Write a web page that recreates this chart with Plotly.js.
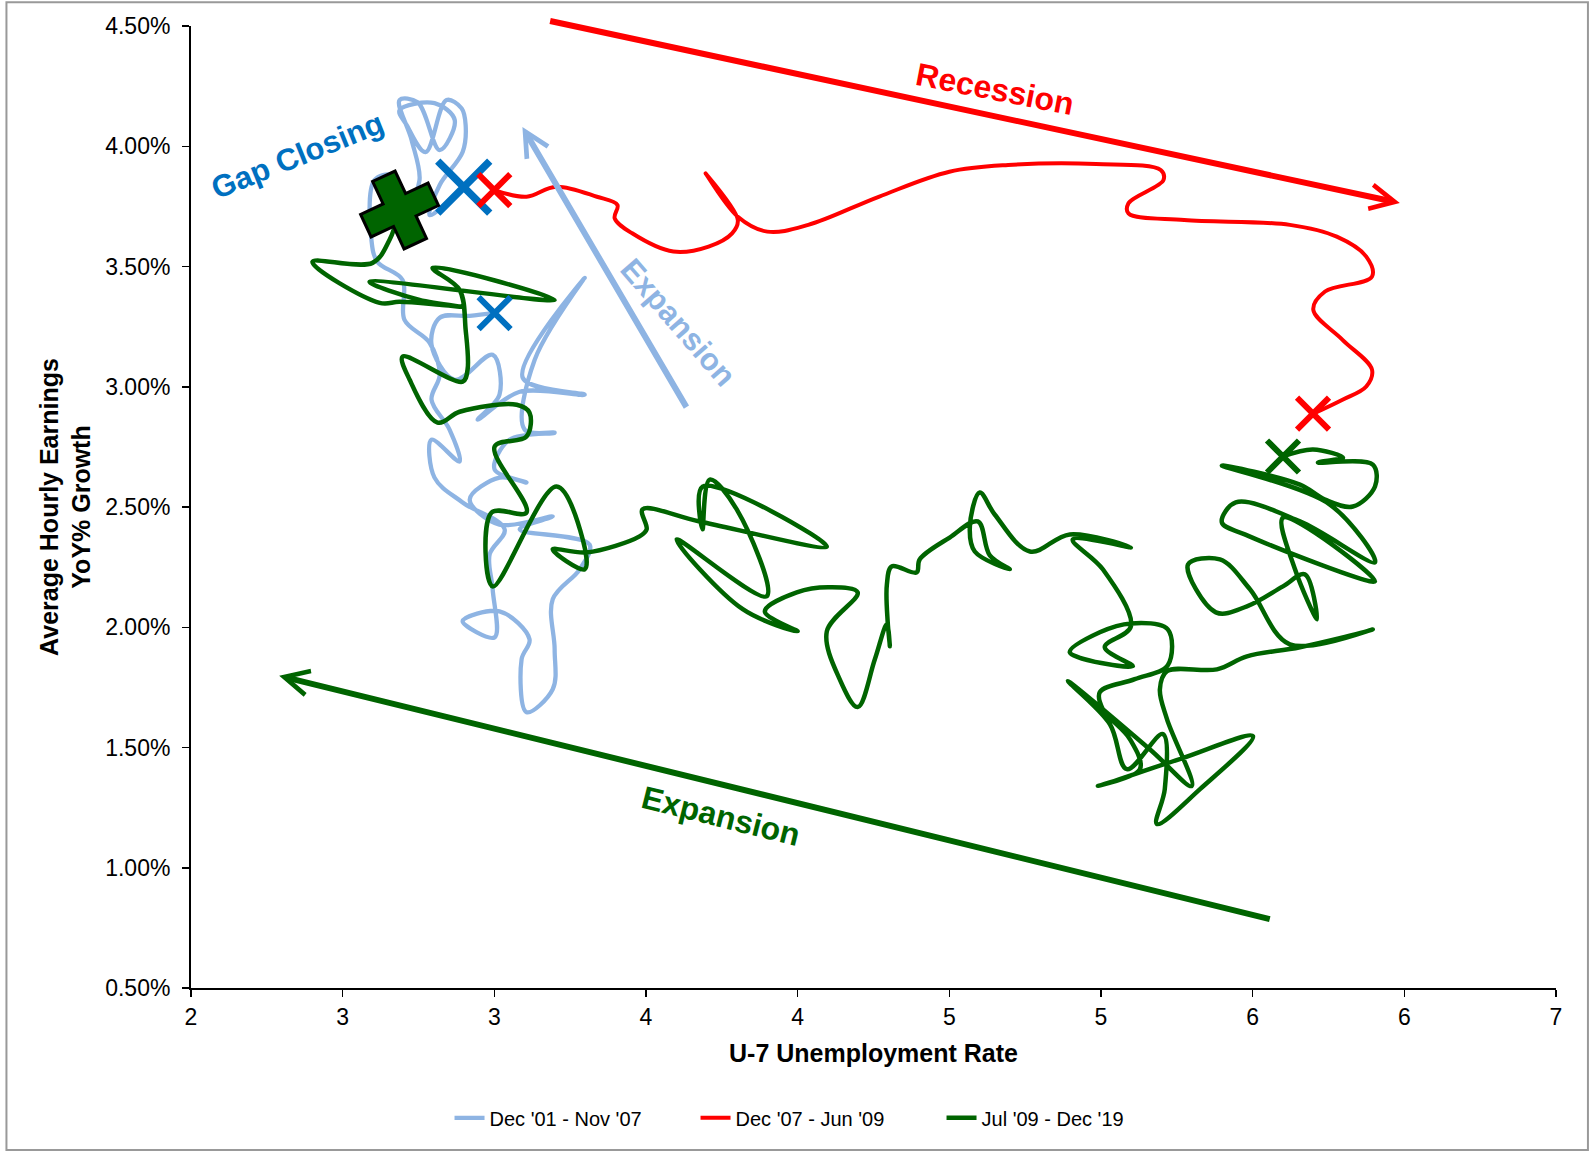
<!DOCTYPE html>
<html>
<head>
<meta charset="utf-8">
<script src="https://cdn.plot.ly/plotly-3.0.1.min.js"></script>
<style>
  html, body { margin: 0; padding: 0; background: #ffffff; }
  #chart { width: 1595px; height: 1153px; }
</style>
</head>
<body>
<div id="chart"></div>
<script>
// ---------------- DATA ----------------
// Legend / series names
const seriesNames = ["Dec '01 - Nov '07", "Dec '07 - Jun '09", "Jul '09 - Dec '19"];

// Dec '01 - Nov '07 (light blue)
const preRecessionU7 = [3.112,3.021,2.911,2.881,2.966,3.105,3.130,3.050,3.204,3.442,
  3.215,3.442,3.259,3.222,3.332,3.167,3.112,3.229,3.130,3.021,
  3.130,3.325,3.204,3.460,3.424,3.325,3.332,3.325,3.229,3.211,
  3.240,3.130,2.995,3.112,3.105,3.094,3.149,2.995,2.892,2.881,
  2.984,2.947,2.881,2.911,2.874,2.782,2.775,2.683,2.661,2.672,
  2.738,2.801,2.837,2.808,2.764,2.830,2.911,2.966,2.892,2.764,
  2.790,2.859,2.936,2.991,3.006,2.995,2.911,2.874,2.929,2.999];
const preRecessionAHE = [3.307,3.295,3.287,3.175,3.029,3.133,2.967,2.863,2.979,2.967,
  3.038,3.453,3.112,2.822,2.809,2.780,2.656,2.602,2.622,2.531,
  2.427,2.461,2.407,2.344,2.241,2.116,1.908,1.742,1.647,1.867,
  1.950,2.066,2.025,1.958,2.158,2.303,2.407,2.519,2.622,2.780,
  2.689,2.822,2.946,3.050,3.183,3.278,3.444,3.519,3.610,3.859,
  3.880,3.776,3.859,4.026,4.192,4.183,3.984,4.109,4.179,4.150,
  4.088,3.976,4.192,4.158,4.088,3.976,3.839,3.714,3.756,3.830];

// Dec '07 - Jun '09 (red)
const recessionU7 = [3.111,3.229,3.337,3.487,3.562,3.552,3.616,3.767,3.896,3.982,
  4.003,3.885,4.003,4.111,4.261,4.519,4.778,4.993,5.315,5.552,
  5.562,5.434,5.434,5.638,6.025,6.197,6.305,6.326,6.154,6.111,
  6.218,6.326,6.305,6.218,6.111];
const recessionAHE = [3.818,3.790,3.832,3.790,3.756,3.700,3.638,3.562,3.583,3.638,
  3.693,3.887,3.707,3.645,3.673,3.790,3.894,3.922,3.926,3.901,
  3.859,3.763,3.721,3.693,3.673,3.624,3.541,3.458,3.396,3.320,
  3.195,3.071,3.001,2.946,2.888];

// Jul '09 - Dec '19 (green)
const expansionU7 = [6.000,6.110,6.220,6.128,6.329,6.337,6.256,6.154,6.062,5.776,
  6.172,6.337,6.062,5.827,5.776,5.860,6.337,6.000,6.044,6.124,
  6.080,6.000,5.868,5.754,5.652,5.769,5.879,6.025,6.329,6.062,
  5.868,5.758,5.575,
  5.549,5.575,5.666,5.512,5.212,5.366,5.428,5.560,5.567,5.538,
  5.696,5.890,5.622,5.322,5.476,5.439,5.340,5.329,5.457,5.578,
  5.578,5.443,5.329,5.219,5.450,5.347,5.443,5.340,5.230,5.443,5.219,
  5.073,4.944,4.889,4.853,4.871,4.999,4.926,4.882,4.779,4.669,
  4.658,4.567,4.549,4.552,4.560,4.549,4.505,4.442,4.376,
  4.329,4.442,4.340,4.219,4.102,4.222,4.021,3.779,4.109,3.999,
  3.900,3.874,3.874,4.329,3.863,3.654,3.669,3.643,
  3.449,3.325,3.442,3.435,3.339,3.105,3.101,3.229,3.112,3.229,
  3.240,3.193,2.984,2.903,2.801,2.775,2.995,3.013,3.006,2.984,
  2.885,3.332,2.654,2.837,2.995,2.911,2.764,2.691,2.445,2.665,2.727,2.764];
const expansionAHE = [2.710,2.739,2.705,2.685,2.676,2.585,2.502,2.531,2.593,2.672,
  2.510,2.270,2.440,2.519,2.436,2.386,2.191,2.456,2.241,2.033,
  2.220,2.170,2.087,2.062,2.261,2.282,2.158,1.929,1.991,1.917,
  1.879,1.825,1.817,
  1.742,1.618,1.340,1.493,1.776,1.597,1.410,1.556,1.327,1.182,
  1.327,1.547,1.452,1.340,1.410,1.535,1.659,1.730,1.784,1.842,
  1.991,2.016,1.979,1.896,1.838,1.917,2.004,2.241,2.365,2.332,2.386,
  2.315,2.469,2.560,2.419,2.315,2.241,2.299,2.440,2.373,2.282,
  2.228,2.253,2.178,2.021,1.921,2.012,1.867,1.668,1.784,
  1.983,2.145,2.166,2.145,2.066,1.983,2.075,2.365,2.129,2.490,
  2.614,2.407,2.585,2.336,2.440,2.490,2.407,2.378,
  2.311,2.324,2.241,2.365,2.585,2.170,2.477,2.477,2.751,2.793,
  2.892,2.925,2.896,2.851,3.029,3.125,3.021,3.071,3.237,3.403,
  3.494,3.361,3.436,3.361,3.332,3.341,3.353,3.349,3.519,3.515,3.610,3.735];

// Period start / end points: [Dec '01 - Nov '07, Dec '07 - Jun '09, Jul '09 - Dec '19]
const periodStartU7  = [3.112, 3.111, 6.000];
const periodStartAHE = [3.306, 3.818, 2.710];
const periodEndU7    = [2.999, 6.110, 2.764];
const periodEndAHE   = [3.830, 2.888, 3.735];

// Axis tick labels
const xTickLabels = ["2","3","3","4","4","5","5","6","6","7"];
const yTickValues = [0.5,1.0,1.5,2.0,2.5,3.0,3.5,4.0,4.5];
const yTickLabels = ["0.50%","1.00%","1.50%","2.00%","2.50%","3.00%","3.50%","4.00%","4.50%"];

// ---------------- STYLE ----------------
const C_LB = '#8EB4E3', C_RED = '#FF0000', C_GRN = '#006400', C_BLUE = '#0070C0';
const FONT = 'Liberation Sans, Arial, Helvetica, sans-serif';
const xTickVals = xTickLabels.map((_, i) => 2 + i * 5 / (xTickLabels.length - 1));

function lineTrace(x, y, name, color, width) {
  return { type: 'scatter', mode: 'lines', x: x, y: y, name: name,
    line: { color: color, width: width, shape: 'spline', smoothing: 1.0 },
    hoverinfo: 'skip' };
}
function xMark(x, y, color, size, w) {
  return { type: 'scatter', mode: 'markers', x: [x], y: [y], showlegend: false, hoverinfo: 'skip',
    marker: { symbol: 'x-thin-open', size: size, color: color, line: { color: color, width: w } } };
}

const traces = [
  lineTrace(preRecessionU7, preRecessionAHE, seriesNames[0], C_LB, 4.3),
  lineTrace(recessionU7, recessionAHE, seriesNames[1], C_RED, 4),
  lineTrace(expansionU7, expansionAHE, seriesNames[2], C_GRN, 4.5),
  xMark(periodStartU7[2], periodStartAHE[2], C_GRN, 32, 6),
  xMark(periodEndU7[1], periodEndAHE[1], C_RED, 32, 6),
  xMark(periodStartU7[0], periodStartAHE[0], C_BLUE, 32, 6),
  xMark(periodEndU7[0], periodEndAHE[0], C_BLUE, 52, 7.5),
  xMark(periodStartU7[1], periodStartAHE[1], C_RED, 32, 6),
  { type: 'scatter', mode: 'markers', x: [periodEndU7[2]], y: [periodEndAHE[2]], showlegend: false, hoverinfo: 'skip',
    marker: { symbol: 'cross', size: 62, angle: -25, color: C_GRN, line: { color: '#000000', width: 3 } } }
];

function arrow(xHead, yHead, xTail, yTail, color) {
  return { x: xHead, y: yHead, ax: xTail, ay: yTail, xref: 'x', yref: 'y', axref: 'x', ayref: 'y',
    text: '', showarrow: true, arrowhead: 5, arrowsize: 0.8, arrowwidth: 6, arrowcolor: color };
}
function label(x, y, text, color, angle, size) {
  return { x: x, y: y, xref: 'x', yref: 'y', text: '<b>' + text + '</b>', showarrow: false,
    textangle: angle, xanchor: 'center', yanchor: 'middle',
    font: { family: FONT, size: size, color: color } };
}

const layout = {
  width: 1595, height: 1153,
  margin: { l: 191, r: 39, t: 26, b: 165 },
  paper_bgcolor: '#ffffff', plot_bgcolor: '#ffffff',
  font: { family: FONT, color: '#000000' },
  showlegend: true,
  legend: { orientation: 'h', x: 0.1894, xanchor: 'left', y: -0.135, yanchor: 'middle',
    font: { family: FONT, size: 20, color: '#000' }, entrywidth: 201, entrywidthmode: 'pixels',
    bgcolor: 'rgba(0,0,0,0)' },
  xaxis: { range: [2, 7], tickmode: 'array', tickvals: xTickVals, ticktext: xTickLabels,
    ticks: 'outside', ticklen: 7, tickwidth: 1.5, tickcolor: '#000',
    showline: true, linecolor: '#000', linewidth: 2, showgrid: false, zeroline: false,
    tickfont: { family: FONT, size: 23, color: '#000' },
    title: { text: '<b>U-7 Unemployment Rate</b>', font: { family: FONT, size: 25, color: '#000' }, standoff: 16 } },
  yaxis: { range: [0.5, 4.5], tickmode: 'array', tickvals: yTickValues, ticktext: yTickLabels,
    ticks: 'outside', ticklen: 7, tickwidth: 1.5, tickcolor: '#000', ticklabelstandoff: 7,
    showline: true, linecolor: '#000', linewidth: 2, showgrid: false, zeroline: false,
    tickfont: { family: FONT, size: 23, color: '#000' },
    title: { text: '<b>Average Hourly Earnings<br>YoY% Growth</b>', font: { family: FONT, size: 25, color: '#000' }, standoff: 7 } },
  shapes: [
    { type: 'rect', xref: 'paper', yref: 'paper', x0: -0.1352, x1: 1.0234, y0: -0.1683, y1: 1.0246,
      line: { color: '#999999', width: 2 }, fillcolor: 'rgba(0,0,0,0)', layer: 'below' }
  ],
  annotations: [
    arrow(6.428, 3.764, 3.310, 4.522, C_RED),
    arrow(2.323, 1.798, 5.957, 0.785, C_GRN),
    arrow(3.214, 4.080, 3.818, 2.909, C_LB),
    label(4.944, 4.239, 'Recession', C_RED, 11, 32),
    label(3.940, 1.215, 'Expansion', C_GRN, 14, 32),
    label(3.785, 3.268, 'Expansion', C_LB, 49, 31),
    label(2.391, 3.963, 'Gap Closing', C_BLUE, -22, 31)
  ]
};

Plotly.newPlot('chart', traces, layout, { displayModeBar: false, staticPlot: true });
</script>
</body>
</html>
